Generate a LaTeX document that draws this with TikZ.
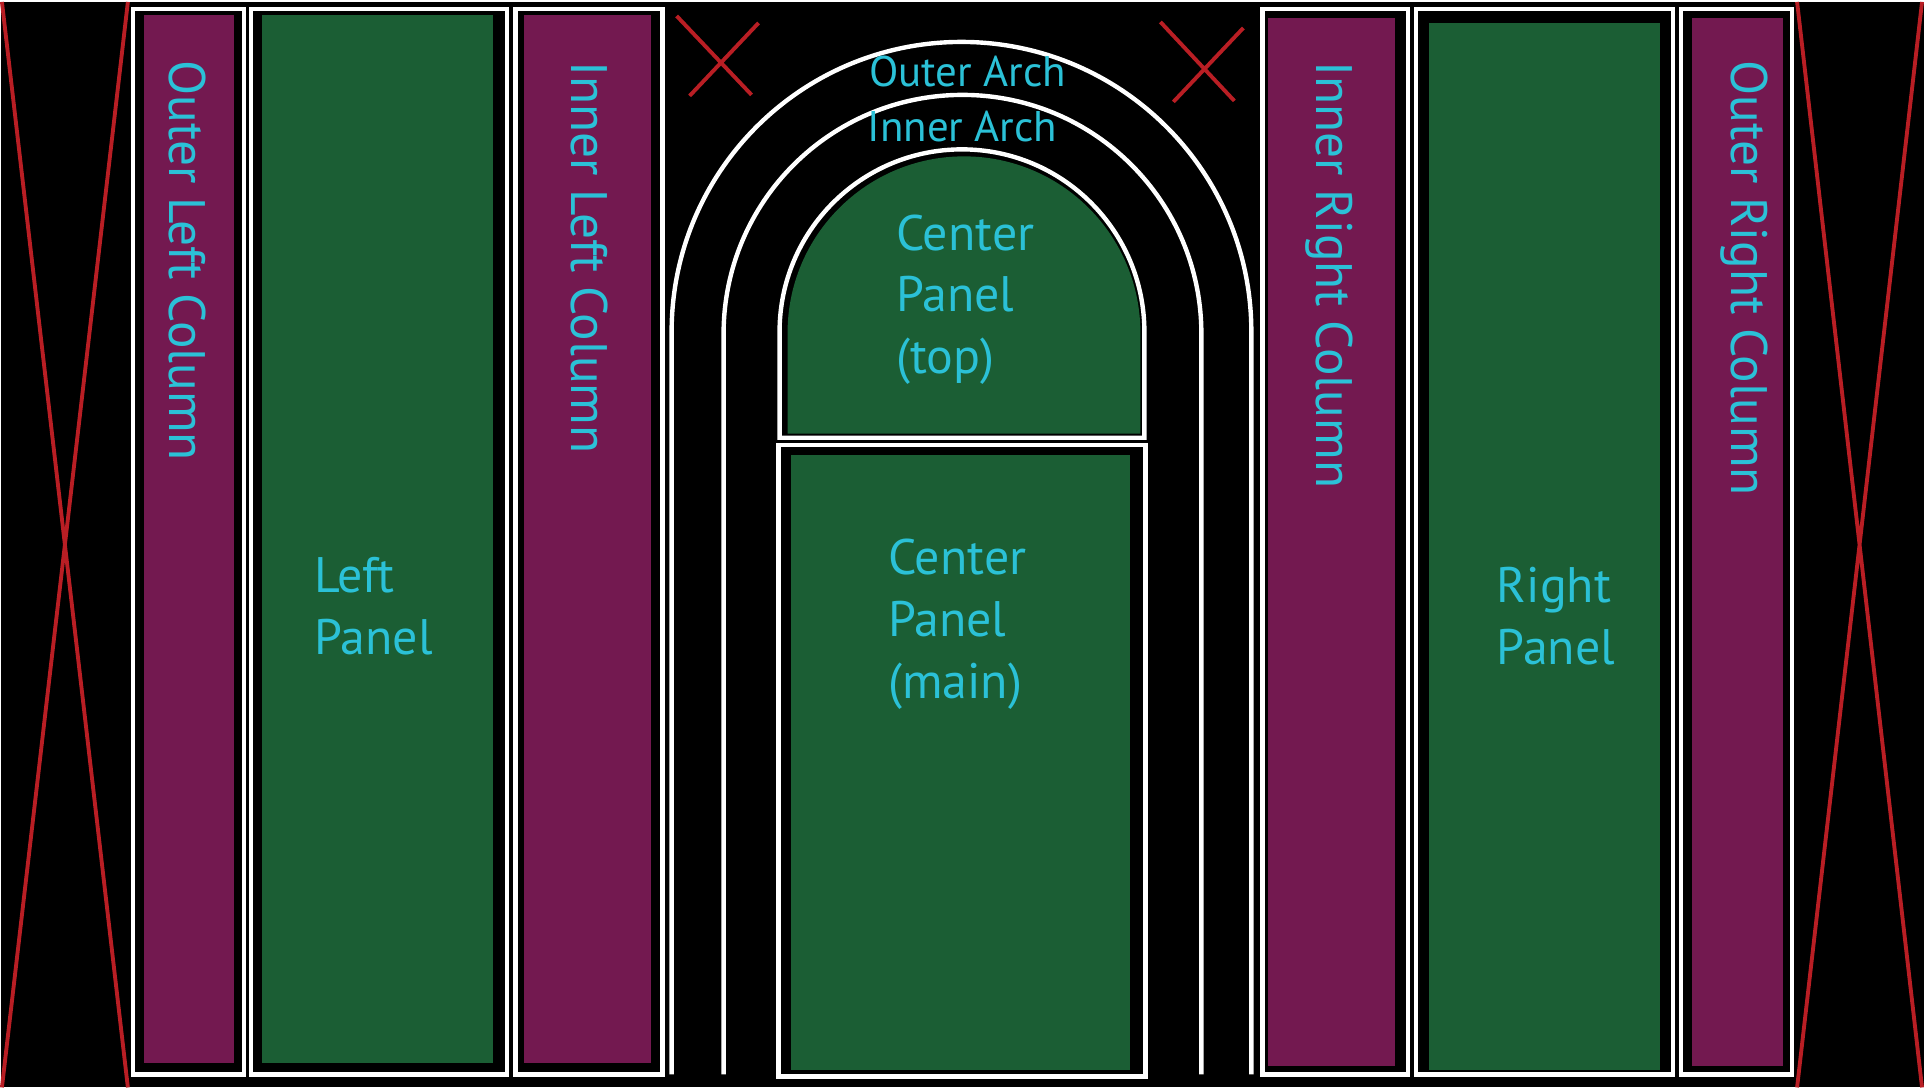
\documentclass[tikz,border=0pt]{standalone}
\usepackage{fontspec}
\setmainfont{PT Sans}

\definecolor{colpurple}{HTML}{731950}
\definecolor{panelgreen}{HTML}{1B5E34}
\definecolor{markred}{HTML}{B91E24}
\definecolor{labelcyan}{HTML}{2BC1D7}

\begin{document}
\begin{tikzpicture}[x=0.01cm, y=0.01cm,
  frame/.style={draw=white, line width=1.25pt},
  cross/.style={draw=markred, line width=1.1pt},
  panellabel/.style={text=labelcyan, inner sep=0pt, font=\fontsize{14.2}{17.6}\selectfont},
  columnlabel/.style={panellabel, rotate=-90, anchor=base west, font=\fontsize{14.6}{17.6}\selectfont},
  archlabel/.style={panellabel, anchor=base, font=\fontsize{12.2}{14}\selectfont}]

\fill[black] (0,0) rectangle (1924,-1086); % Background

% Crosses
\draw[cross] (1,0) -- (127,-1086) (127,0) -- (1,-1086);
\draw[cross] (1797,0) -- (1922,-1086) (1922,0) -- (1797,-1086);
\draw[cross] (676,-14) -- (751,-93) (758,-21) -- (689,-94);
\draw[cross] (1160,-20) -- (1234,-99) (1243,-26) -- (1173,-100);

% Columns and side panels
\foreach \fa/\fb/\ga/\gb/\gt/\gd/\c in {
    132/243/143/233/13/1062/colpurple,
    250/506/261/492/13/1062/panelgreen,
    515/662/523/650/13/1062/colpurple,
    1262/1408/1268/1395/16/1065/colpurple,
    1416/1673/1429/1660/21/1069/panelgreen,
    1681/1792/1692/1783/16/1065/colpurple} {
  \fill[\c] (\ga,-\gt) rectangle (\gb,-\gd);
  \draw[frame] (\fa,-7) rectangle (\fb,-1073);
}

% Arches
\draw[frame] (671,-1073) -- (671,-330) arc[start angle=180, end angle=0, radius=290] -- (1251,-1073);
\draw[frame] (723,-1073) -- (723,-332) arc[start angle=180, end angle=0, radius=239] -- (1201,-1073);

% Center panel
\fill[panelgreen] (787,-432) -- (787,-331) arc[start angle=180, end angle=0, radius=176.5] -- (1140,-432) -- cycle;
\draw[frame] (779,-436) -- (779,-330) arc[start angle=180, end angle=0, radius=182.5] -- (1144,-436) -- cycle;
\fill[panelgreen] (790,-453) rectangle (1130,-1069);
\draw[frame] (778,-443) rectangle (1145,-1075);

% Labels
\node[columnlabel] (outerleft) at (169,-58) {Outer Left Column};
\node[columnlabel] (innerleft) at (571,-59) {Inner Left Column};
\node[columnlabel] (innerright) at (1316,-59) {Inner Right Column};
\node[columnlabel] (outerright) at (1731,-58) {Outer Right Column};

\node[archlabel] (outerarch) at (967,-85) {Outer Arch};
\node[archlabel] (innerarch) at (962,-140) {Inner Arch};

\node[panellabel, align=left, anchor=north west] (leftpanel) at (313,-555) {Left\\Panel};
\node[panellabel, align=left, anchor=north west] (centertop) at (895,-212) {Center\\Panel\\(top)};
\node[panellabel, align=left, anchor=north west] (centermain) at (887,-537) {Center\\Panel\\(main)};
\node[panellabel, align=left, anchor=north west] (rightpanel) at (1496,-565) {Right\\Panel};

\end{tikzpicture}
\end{document}
